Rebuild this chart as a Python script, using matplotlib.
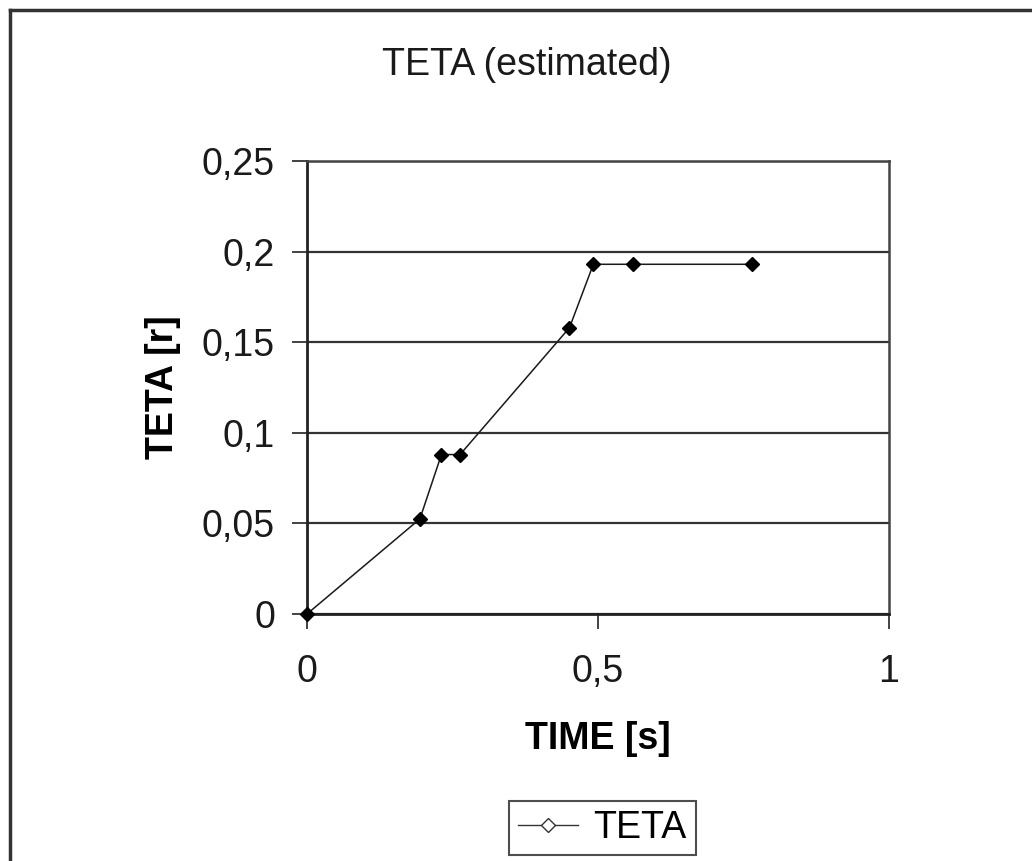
import matplotlib.pyplot as plt
from matplotlib.lines import Line2D

plt.rcParams['font.family'] = ['Liberation Sans', 'DejaVu Sans']

# estimated angle samples
time_s = [0.0, 0.194, 0.231, 0.263, 0.451, 0.492, 0.560, 0.765]
teta_r = [0.0, 0.0525, 0.088, 0.088, 0.158, 0.193, 0.193, 0.193]
yticks = [0, 0.05, 0.1, 0.15, 0.2, 0.25]
ytick_labels = ['0', '0,05', '0,1', '0,15', '0,2', '0,25']
xticks = [0, 0.5, 1]
xtick_labels = ['0', '0,5', '1']

W, H = 1032, 861
fig = plt.figure(figsize=(W / 100, H / 100), dpi=100)
fig.patch.set_facecolor('white')

ax = fig.add_axes([307 / W, 1 - 614 / H, (889 - 307) / W, (614 - 161) / H])
ax.plot(time_s, teta_r, color='#1a1a1a', lw=1.1, marker='D', markersize=7.5,
        markerfacecolor='black', markeredgecolor='black', clip_on=False, zorder=3)

ax.set_xlim(0, 1)
ax.set_ylim(0, 0.25)
ax.set_xticks(xticks)
ax.set_xticklabels(xtick_labels)
ax.set_yticks(yticks)
ax.set_yticklabels(ytick_labels)
ax.tick_params(axis='both', labelsize=27, length=11, width=1.2, color='#222222',
               labelcolor='#1a1a1a', direction='out')
ax.tick_params(axis='y', pad=12)
ax.tick_params(axis='x', pad=18)
ax.yaxis.grid(True, color='#333333', lw=1.6)
ax.set_axisbelow(True)
for side in ['left', 'bottom']:
    ax.spines[side].set_linewidth(2.0)
    ax.spines[side].set_color('#222222')
for side in ['top', 'right']:
    ax.spines[side].set_linewidth(1.8)
    ax.spines[side].set_color('#444444')

ax.set_xlabel('TIME [s]', fontsize=27, fontweight='bold', labelpad=22)
ax.set_ylabel('TETA [r]', fontsize=27, fontweight='bold', labelpad=15)

fig.text(527 / W, 1 - 65 / H, 'TETA (estimated)', fontsize=27,
         ha='center', va='center', color='#1a1a1a')

# legend at the bottom
handle = Line2D([], [], color='#333333', lw=1.0, marker='D', markersize=7,
                markerfacecolor='white', markeredgecolor='#333333')
leg = fig.legend([handle], ['TETA'], loc='center', bbox_to_anchor=(602 / W, 1 - 828 / H),
                 fontsize=27, frameon=True, fancybox=False, handlelength=1.6,
                 handletextpad=0.4, borderpad=0.25, borderaxespad=0)
leg.get_frame().set_edgecolor('#222222')
leg.get_frame().set_linewidth(1.5)

# outer chart border (cut off on the right and bottom)
fig.add_artist(Line2D([10 / W, 10 / W], [0, 1 - 10 / H], color='#333333', lw=2.5,
                      transform=fig.transFigure))
fig.add_artist(Line2D([10 / W, 1], [1 - 10 / H, 1 - 10 / H], color='#333333', lw=2.5,
                      transform=fig.transFigure))

fig.savefig('out.png', dpi=100)
